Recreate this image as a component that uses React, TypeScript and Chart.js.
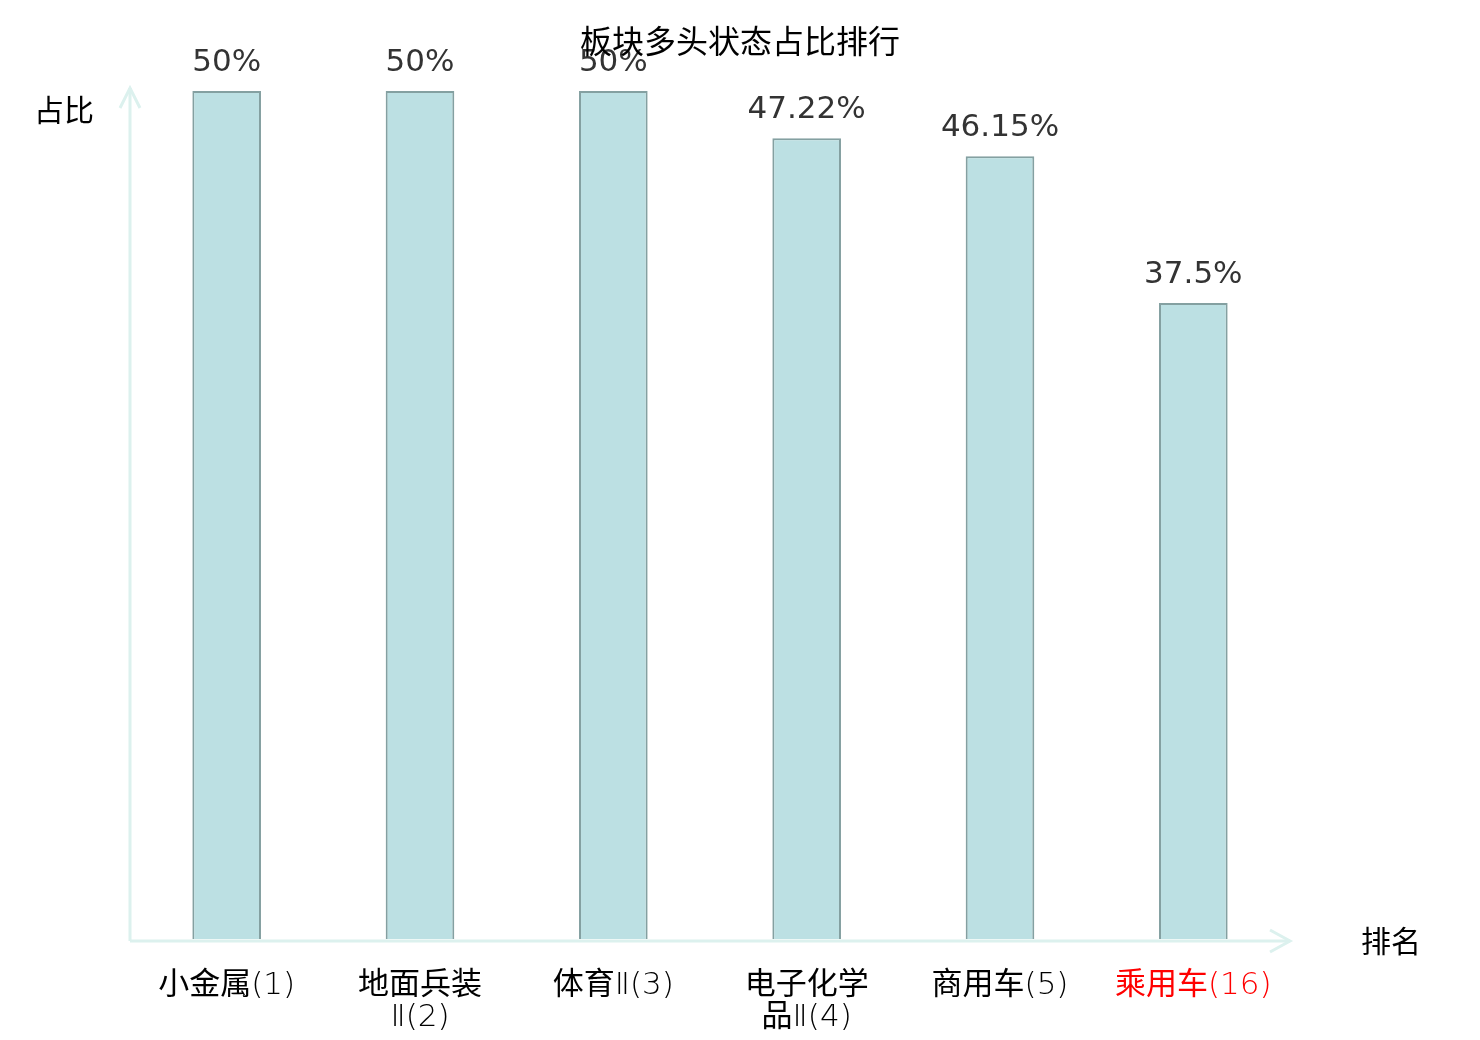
import React, { useEffect, useRef } from "react";
import { Chart, registerables } from "chart.js";

Chart.register(...registerables);

const titleText = "板块多头状态占比排行";
const yAxisName = "占比";
const xAxisName = "排名";
const categories: string[][] = [
  ["小金属(1)"],
  ["地面兵装", "Ⅱ(2)"],
  ["体育Ⅱ(3)"],
  ["电子化学", "品Ⅱ(4)"],
  ["商用车(5)"],
  ["乘用车(16)"],
];
const values: number[] = [50, 50, 50, 47.22, 46.15, 37.5];
const highlighted: boolean[] = [false, false, false, false, false, true];
const yMin = 0;
const yMax = 50;

const CJK = "'DejaVu Sans', 'Noto Sans CJK SC', sans-serif";
const TICK_FONT = "'DejaVu Sans Light', 'Noto Sans CJK SC', sans-serif";
const AXIS_COLOR = "#dcf1ee";

const decorPlugin = {
  id: "decor",
  beforeDatasetsDraw(chart: any) {
    const { ctx, chartArea } = chart;
    const { left, right, top, bottom } = chartArea;
    const y0 = bottom + 2;
    ctx.save();
    ctx.strokeStyle = AXIS_COLOR;
    ctx.lineWidth = 3;
    ctx.lineCap = "butt";
    // x axis
    ctx.beginPath();
    ctx.moveTo(left, y0);
    ctx.lineTo(right, y0);
    ctx.stroke();
    ctx.beginPath();
    ctx.moveTo(right - 20, y0 - 11);
    ctx.lineTo(right, y0);
    ctx.lineTo(right - 20, y0 + 11);
    ctx.stroke();
    // y axis
    ctx.beginPath();
    ctx.moveTo(left, y0);
    ctx.lineTo(left, top - 3);
    ctx.stroke();
    ctx.beginPath();
    ctx.moveTo(left - 10, top + 17);
    ctx.lineTo(left, top - 3);
    ctx.lineTo(left + 10, top + 17);
    ctx.stroke();
    ctx.restore();
  },
  afterDraw(chart: any) {
    const { ctx, chartArea, width } = chart;
    const { left, right, top, bottom } = chartArea;
    ctx.save();
    ctx.textAlign = "center";
    ctx.textBaseline = "middle";
    // value labels
    const meta = chart.getDatasetMeta(0);
    ctx.fillStyle = "#333";
    ctx.font = `31px ${CJK}`;
    meta.data.forEach((bar: any, i: number) => {
      ctx.fillText(`${values[i]}%`, bar.x, bar.y - 28);
    });
    // title
    ctx.fillStyle = "#000";
    ctx.font = `32px ${CJK}`;
    ctx.fillText(titleText, width / 2, 45);
    // axis names
    ctx.font = `30px ${CJK}`;
    ctx.fillText(yAxisName, left - 66, top + 22);
    ctx.fillText(xAxisName, right + 101, bottom + 5);
    ctx.restore();
  },
};

export default function App() {
  const ref = useRef<HTMLCanvasElement | null>(null);
  useEffect(() => {
    if (!ref.current) return;
    const chart = new Chart(ref.current, {
      type: "bar",
      data: {
        labels: categories,
        datasets: [
          {
            data: values,
            backgroundColor: "#bce0e3",
            borderColor: "#84a0a1",
            borderWidth: 2,
            barPercentage: 0.355,
            categoryPercentage: 1,
          },
        ],
      },
      options: {
        animation: false,
        responsive: false,
        maintainAspectRatio: false,
        layout: { padding: { left: 130, right: 190, top: 91, bottom: 0 } },
        plugins: {
          legend: { display: false },
          tooltip: { enabled: false },
          title: { display: false },
        },
        scales: {
          x: {
            grid: { display: false, drawTicks: false },
            border: { display: false },
            afterFit: (scale: any) => {
              scale.height = 101;
            },
            ticks: {
              padding: 31,
              maxRotation: 0,
              autoSkip: false,
              font: { family: TICK_FONT, size: 31, weight: "normal" as any, lineHeight: "32px" as any },
              color: (c: any) => (highlighted[c.index] ? "#f00" : "#000"),
            },
          },
          y: {
            display: false,
            min: yMin,
            max: yMax,
          },
        },
      },
      plugins: [decorPlugin],
    });
    return () => chart.destroy();
  }, []);
  return (
    <div style={{ position: "fixed", left: 0, top: 0, width: 1480, height: 1040, background: "#fff" }}>
      <canvas ref={ref} width={1480} height={1040} style={{ width: 1480, height: 1040 }} />
    </div>
  );
}
